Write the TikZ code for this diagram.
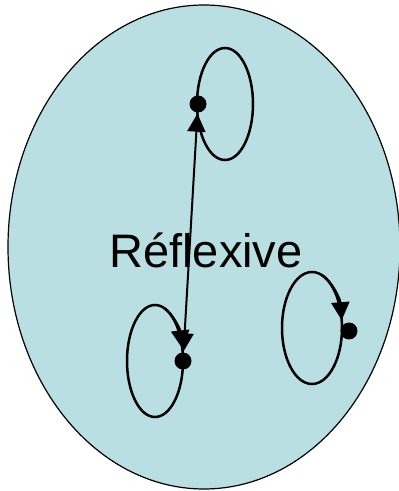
\documentclass[tikz,border=0pt]{standalone}
\usepackage{fontspec}
\setmainfont{Liberation Sans}
\usetikzlibrary{arrows.meta}
\definecolor{setfill}{RGB}{185,223,227}
\tikzset{
  x=1pt,y=1pt,
  dotnode/.style={circle,fill=black,inner sep=0pt,minimum size=17pt},
  loopline/.style={line width=2.5pt},
  bigtip/.tip={Triangle[width=18pt,length=18pt]},
  looparrow/.style={-bigtip},
}
\begin{document}
\begin{tikzpicture}
\useasboundingbox (0,0) rectangle (399,491);
\draw[fill=setfill,line width=1.2pt] (204,244) ellipse[x radius=196,y radius=242];
\node[font=\fontsize{47}{50}\selectfont] (lbl) at (206,241) {Réflexive};
% dots
\node[dotnode] (a) at (198,387) {};
\node[dotnode] (b) at (183,130) {};
\node[dotnode] (c) at (349,160) {};
% loops
\draw[loopline] (225,387) ellipse[x radius=28,y radius=56];
\draw[loopline] (155,130) ellipse[x radius=28,y radius=56];
\draw[loopline] (312,163) ellipse[x radius=30,y radius=56];
\draw[loopline,looparrow] (155,130) ++(70:28 and 56) arc[start angle=70,end angle=13,x radius=28,y radius=56];
\draw[loopline,looparrow] (312,163) ++(70:30 and 56) arc[start angle=70,end angle=8,x radius=30,y radius=56];
% line between dots
\draw[line width=2pt,bigtip-bigtip,shorten <=1pt,shorten >=1pt] (a) -- (b);
\end{tikzpicture}
\end{document}
